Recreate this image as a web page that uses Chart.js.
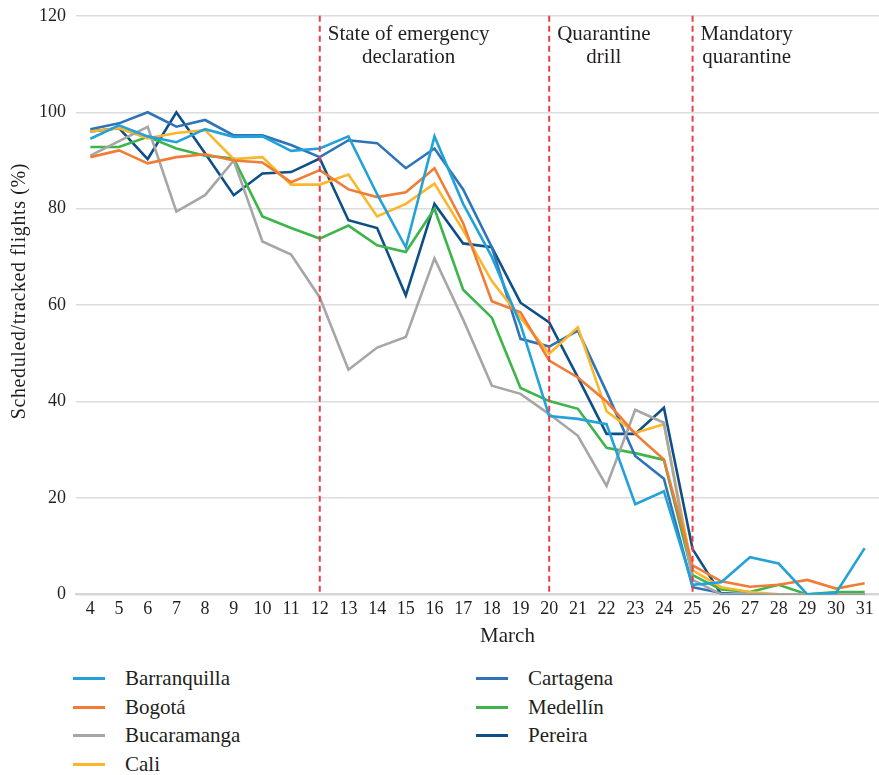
<!DOCTYPE html>
<html>
<head>
<meta charset="utf-8">
<script src="https://cdn.jsdelivr.net/npm/chart.js@4.4.1/dist/chart.umd.min.js"></script>
<style>
  body { margin: 0; background: #fff; font-family: "Liberation Serif", "DejaVu Serif", serif; }
  #wrap { position: relative; width: 879px; height: 775px; }
  #legend { position: absolute; left: 73px; top: 664px; display: grid; grid-template-rows: repeat(4, 28.7px); grid-auto-flow: column; grid-template-columns: 403px 300px; }
  .item { display: flex; align-items: center; font-size: 21px; color: #231f20; }
  .swatch { width: 32px; height: 3px; margin-right: 20px; }
</style>
</head>
<body>
<div id="wrap">
  <canvas id="chart_canvas" width="879" height="655"></canvas>
  <div id="legend"></div>
</div>
<script>
var days = ['4','5','6','7','8','9','10','11','12','13','14','15','16','17','18','19','20','21','22','23','24','25','26','27','28','29','30','31'];

var barranquilla = [94.5, 97.3, 95, 93.8, 96.5, 94.9, 95, 92, 92.5, 95, 83, 72, 95, 81, 70, 56, 37, 36.4, 35.3, 18.7, 21.4, 2, 2.5, 7.7, 6.4, 0, 0.3, 9.6];
var bogota = [90.7, 92.1, 89.4, 90.7, 91.3, 90, 89.6, 85.5, 88, 84, 82.4, 83.4, 88.4, 77, 60.8, 58.5, 48.5, 45, 40, 33.3, 28, 6, 2.7, 1.6, 2, 3, 1.2, 2.3];
var bucaramanga = [91, 94, 97, 79.4, 82.8, 90, 73.2, 70.5, 61.6, 46.6, 51.2, 53.4, 69.7, 57, 43.3, 41.6, 37.4, 32.9, 22.5, 38.3, 35.6, 3, 0, 0, 0, 0, 0, 0];
var cali = [96, 96.7, 94.6, 95.7, 96.3, 90.3, 90.7, 85, 85, 87.1, 78.4, 81, 85.2, 75.5, 65, 57.4, 49.9, 55.4, 38, 33.5, 35.3, 5, 1.5, 0.5, 0, 0, 0, 0];
var cartagena = [96.5, 97.7, 100, 97, 98.4, 95.2, 95.2, 93.2, 90.7, 94.2, 93.6, 88.4, 92.5, 84, 72, 53, 51.4, 54.7, 42, 28.7, 24, 1.5, 0.3, 0, 0, 0, 0, 0];
var medellin = [92.8, 92.8, 94.9, 92.5, 91, 90.4, 78.4, 76, 73.8, 76.5, 72.4, 71, 80, 63.2, 57.4, 42.8, 40.1, 38.5, 30.4, 29.3, 27.9, 4, 1, 0.5, 2, 0, 0.5, 0.5];
var pereira = [96, 96.7, 90.3, 100, 91.5, 82.8, 87.3, 87.6, 90.4, 77.6, 76, 62, 81, 72.8, 72, 60.5, 56.4, 45, 33.3, 33.3, 38.7, 9.4, 0, 0, 0, 0, 0, 0];

var yTicks = [0, 20, 40, 60, 80, 100, 120];

// event markers: day + label lines
var eventDays = ['12', '20', '25'];
var eventText = [['State of emergency', 'declaration'], ['Quarantine', 'drill'], ['Mandatory', 'quarantine']];

var xTitle = 'March';
var yTitle = 'Scheduled/tracked flights (%)';

var FONT = '"Liberation Serif", "DejaVu Serif", serif';

var eventPlugin = {
  id: 'events',
  afterDatasetsDraw: function(chart) {
    var ctx = chart.ctx;
    var xs = chart.scales.x;
    var area = chart.chartArea;
    ctx.save();
    for (var i = 0; i < eventDays.length; i++) {
      var x = xs.getPixelForValue(days.indexOf(eventDays[i]));
      ctx.strokeStyle = '#e5404e';
      ctx.lineWidth = 2;
      ctx.setLineDash([6, 4]);
      ctx.beginPath();
      ctx.moveTo(x, area.top);
      ctx.lineTo(x, area.bottom);
      ctx.stroke();
      ctx.setLineDash([]);
      ctx.font = '21px ' + FONT;
      ctx.fillStyle = '#231f20';
      ctx.textAlign = 'center';
      ctx.textBaseline = 'middle';
      var w = 0;
      for (var j = 0; j < eventText[i].length; j++)
        w = Math.max(w, ctx.measureText(eventText[i][j]).width);
      for (var j = 0; j < eventText[i].length; j++)
        ctx.fillText(eventText[i][j], x + 8 + w / 2, area.top + 19 + j * 23);
    }
    // axis titles
    ctx.font = '21px ' + FONT;
    ctx.fillStyle = '#231f20';
    ctx.textAlign = 'center';
    ctx.textBaseline = 'middle';
    ctx.fillText(xTitle, (area.left + area.right) / 2 + 30, area.bottom + 42);
    ctx.translate(20, (area.top + area.bottom) / 2 - 14);
    ctx.rotate(-Math.PI / 2);
    ctx.letterSpacing = '0.6px';
    ctx.font = '20px ' + FONT;
    ctx.fillText(yTitle, 0, 0);
    ctx.restore();
  }
};

function ds(label, data, color) {
  return { label: label, data: data, borderColor: color, backgroundColor: color, borderWidth: 2.6, pointRadius: 0, tension: 0, fill: false };
}

var ctx = document.getElementById('chart_canvas').getContext('2d');
var myChart = new Chart(ctx, {
  type: 'line',
  data: {
    labels: days,
    datasets: [
      ds('Barranquilla', barranquilla, '#23a2da'),
      ds('Bogotá', bogota, '#f07c36'),
      ds('Bucaramanga', bucaramanga, '#a6a6a6'),
      ds('Cali', cali, '#fbb62a'),
      ds('Cartagena', cartagena, '#2f74b9'),
      ds('Medellín', medellin, '#3db54a'),
      ds('Pereira', pereira, '#0f4f87')
    ]
  },
  options: {
    responsive: false,
    animation: false,
    layout: { padding: { top: 0, right: -5, bottom: 31, left: 29 } },
    plugins: { legend: { display: false }, tooltip: { enabled: false } },
    scales: {
      x: {
        offset: true,
        grid: { display: false, drawTicks: false },
        border: { color: '#d4d4d4', width: 2 },
        ticks: { color: '#231f20', font: { family: FONT, size: 18 }, padding: 4, maxRotation: 0, autoSkip: false }
      },
      y: {
        min: 0, max: 120,
        afterBuildTicks: function(axis) { axis.ticks = yTicks.map(function(v) { return { value: v }; }); },
        grid: { color: '#dcdcdc', lineWidth: 1.5, drawTicks: false },
        border: { display: false },
        ticks: { color: '#231f20', font: { family: FONT, size: 18, lineHeight: 0.65 }, padding: 10 }
      }
    }
  },
  plugins: [eventPlugin]
});

// legend in two columns, filled top to bottom
var legend = document.getElementById('legend');
myChart.data.datasets.forEach(function(d) {
  var item = document.createElement('div');
  item.className = 'item';
  var sw = document.createElement('span');
  sw.className = 'swatch';
  sw.style.background = d.borderColor;
  item.appendChild(sw);
  item.appendChild(document.createTextNode(d.label));
  legend.appendChild(item);
});
</script>
</body>
</html>
